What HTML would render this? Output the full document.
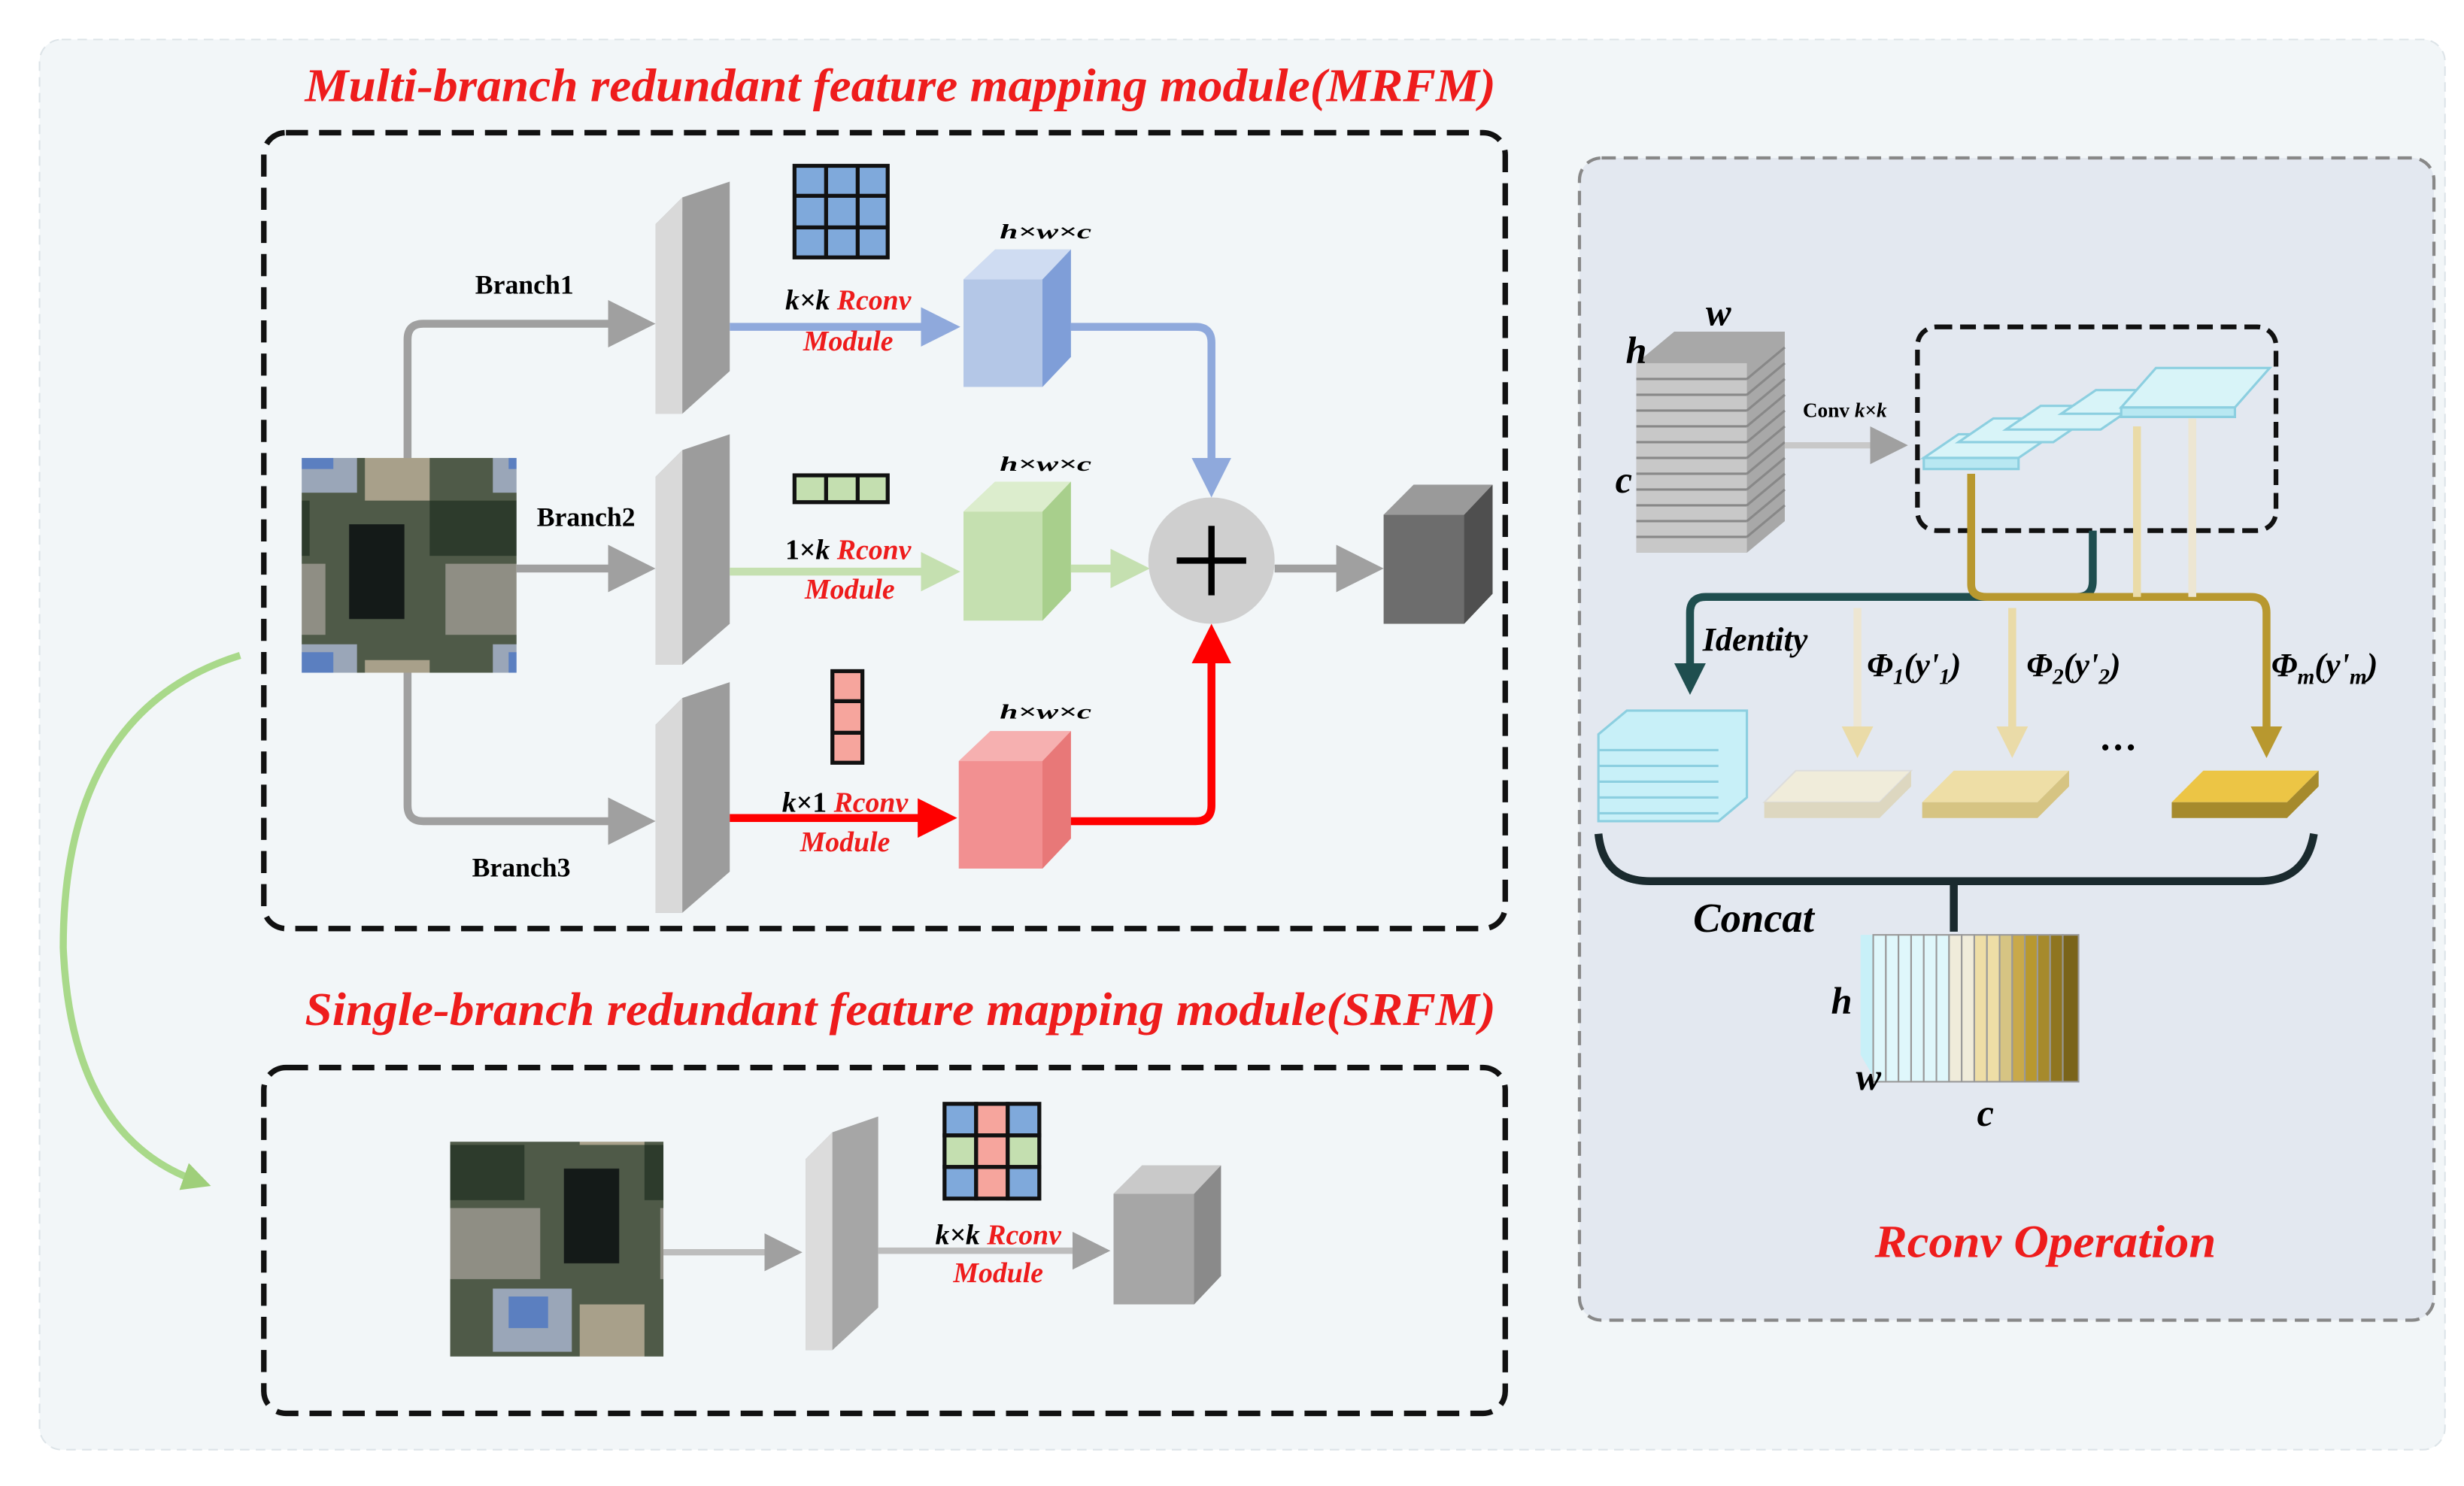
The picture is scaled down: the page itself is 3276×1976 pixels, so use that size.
<!DOCTYPE html>
<html><head><meta charset="utf-8"><style>
html,body{margin:0;padding:0;background:#fff;}
svg{display:block;}
text{font-family:"Liberation Serif",serif;}
</style></head><body>
<svg width="3276" height="1976" viewBox="0 0 1560 941" xmlns="http://www.w3.org/2000/svg">
<defs>
<marker id="ag" markerWidth="6" markerHeight="6" refX="4" refY="3" orient="auto" markerUnits="strokeWidth"><path d="M0,0 L6,3 L0,6 z" fill="#a0a0a0"/></marker>
<marker id="ab" markerWidth="5" markerHeight="5" refX="3" refY="2.5" orient="auto" markerUnits="strokeWidth"><path d="M0,0 L5,2.5 L0,5 z" fill="#8fa9dc"/></marker>
<marker id="agr" markerWidth="5" markerHeight="5" refX="3" refY="2.5" orient="auto" markerUnits="strokeWidth"><path d="M0,0 L5,2.5 L0,5 z" fill="#c5e0b0"/></marker>
<marker id="ar" markerWidth="5" markerHeight="5" refX="3" refY="2.5" orient="auto" markerUnits="strokeWidth"><path d="M0,0 L5,2.5 L0,5 z" fill="#ff0000"/></marker>
<marker id="ad" markerWidth="4" markerHeight="4" refX="2" refY="2" orient="auto" markerUnits="strokeWidth"><path d="M0,0 L4,2 L0,4 z" fill="#1f4e4f"/></marker>
<marker id="ao" markerWidth="4" markerHeight="4" refX="2" refY="2" orient="auto" markerUnits="strokeWidth"><path d="M0,0 L4,2 L0,4 z" fill="#b8982f"/></marker>
<marker id="al" markerWidth="4" markerHeight="4" refX="2" refY="2" orient="auto" markerUnits="strokeWidth"><path d="M0,0 L4,2 L0,4 z" fill="#eadba8"/></marker>
<marker id="agg" markerWidth="4" markerHeight="4" refX="2" refY="2" orient="auto" markerUnits="strokeWidth"><path d="M0,0 L4,2 L0,4 z" fill="#9fcf7a"/></marker>
<pattern id="img" width="136" height="136" patternUnits="userSpaceOnUse">
<rect width="136" height="136" fill="#4f5a48"/>
<rect x="40" y="0" width="50" height="40" fill="#9aa6b8"/>
<rect x="50" y="5" width="25" height="20" fill="#5b7fc0"/>
<rect x="0" y="45" width="60" height="35" fill="#2d3b2c"/>
<rect x="85" y="60" width="35" height="60" fill="#141a18"/>
<rect x="10" y="85" width="60" height="45" fill="#8f8e84"/>
<rect x="95" y="10" width="41" height="35" fill="#a8a08a"/>
</pattern>
</defs>
<rect x="25" y="25" width="1523" height="893" rx="14" fill="#f2f6f8" stroke="#dde4e8" stroke-dasharray="6,4"/>

<text x="193" y="64" textLength="754" lengthAdjust="spacingAndGlyphs" font-size="30" font-weight="bold" font-style="italic" fill="#ee1c1c">Multi-branch redundant feature mapping module(MRFM)</text>
<rect x="167" y="84" width="786" height="504" rx="14" fill="none" stroke="#111" stroke-width="3.5" stroke-dasharray="14,7"/>

<g fill="none" stroke="#a0a0a0" stroke-width="5">
<path d="M258,290 V215 Q258,205 268,205 H405" marker-end="url(#ag)"/>
<path d="M327,360 H405" marker-end="url(#ag)"/>
<path d="M258,426 V510 Q258,520 268,520 H405" marker-end="url(#ag)"/>
</g>
<rect x="191" y="290" width="136" height="136" fill="url(#img)"/>
<text x="332" y="186" text-anchor="middle" font-size="17" font-weight="bold">Branch1</text>
<text x="371" y="333" text-anchor="middle" font-size="17" font-weight="bold">Branch2</text>
<text x="330" y="555" text-anchor="middle" font-size="17" font-weight="bold">Branch3</text>

<g>
<path d="M415,142 L432,125 L462,115 L462,235 L432,262 L415,262 z" fill="#9c9c9c"/><path d="M415,142 L432,125 L432,262 L415,262z" fill="#d9d9d9"/>
<path d="M415,302 L432,285 L462,275 L462,395 L432,421 L415,421 z" fill="#9c9c9c"/><path d="M415,302 L432,285 L432,421 L415,421z" fill="#d9d9d9"/>
<path d="M415,459 L432,442 L462,432 L462,552 L432,578 L415,578 z" fill="#9c9c9c"/><path d="M415,459 L432,442 L432,578 L415,578z" fill="#d9d9d9"/>
</g>
<g stroke="#111" stroke-width="2.5">
<rect x="503" y="105" width="59" height="58" fill="#7fa9db"/>
<path d="M523,105V163M543,105V163M503,124H562M503,144H562"/>
<rect x="503" y="301" width="59" height="17" fill="#c4dfb0"/>
<path d="M523,301V318M543,301V318"/>
<rect x="527" y="425" width="19" height="58" fill="#f6a59d"/>
<path d="M527,444H546M527,464H546"/>
</g>
<path d="M462,207 H598" stroke="#8fa9dc" stroke-width="5" marker-end="url(#ab)"/>
<path d="M462,362 H598" stroke="#c5e0b0" stroke-width="5" marker-end="url(#agr)"/>
<path d="M462,518 H596" stroke="#ff0000" stroke-width="5" marker-end="url(#ar)"/>
<g font-size="18" font-weight="bold" font-style="italic" text-anchor="middle">
<text x="537" y="196"><tspan fill="#000">k×k </tspan><tspan fill="#ee1c1c">Rconv</tspan></text>
<text x="537" y="222" fill="#ee1c1c">Module</text>
<text x="537" y="354"><tspan fill="#000" font-style="normal">1×</tspan><tspan fill="#000">k </tspan><tspan fill="#ee1c1c">Rconv</tspan></text>
<text x="538" y="379" fill="#ee1c1c">Module</text>
<text x="535" y="514"><tspan fill="#000">k</tspan><tspan fill="#000" font-style="normal">×1 </tspan><tspan fill="#ee1c1c">Rconv</tspan></text>
<text x="535" y="539" fill="#ee1c1c">Module</text>
</g>
<g>
<path d="M610,177 L630,158 L678,158 L678,226 L660,245 L610,245z" fill="#b4c7e7"/><path d="M610,177 L630,158 L678,158 L660,177z" fill="#cfdcf2"/><path d="M660,177 L678,158 L678,226 L660,245z" fill="#7f9ed8"/>
<path d="M610,324 L630,305 L678,305 L678,374 L660,393 L610,393z" fill="#c5e0b0"/><path d="M610,324 L630,305 L678,305 L660,324z" fill="#dcedcd"/><path d="M660,324 L678,305 L678,374 L660,393z" fill="#a8cf8c"/>
<path d="M607,482 L627,463 L678,463 L678,531 L660,550 L607,550z" fill="#f29091"/><path d="M607,482 L627,463 L678,463 L660,482z" fill="#f6b0b0"/><path d="M660,482 L678,463 L678,531 L660,550z" fill="#e87878"/>
</g>
<g font-size="13" font-weight="bold" font-style="italic">
<text x="633" y="151" textLength="58" lengthAdjust="spacingAndGlyphs">h×w×c</text><text x="633" y="298" textLength="58" lengthAdjust="spacingAndGlyphs">h×w×c</text><text x="633" y="455" textLength="58" lengthAdjust="spacingAndGlyphs">h×w×c</text>
</g>
<path d="M678,207 H757 Q767,207 767,217 V305" fill="none" stroke="#8fa9dc" stroke-width="5" marker-end="url(#ab)"/>
<path d="M678,360 H718" stroke="#c5e0b0" stroke-width="5" marker-end="url(#agr)"/>
<path d="M678,520 H757 Q767,520 767,510 V405" fill="none" stroke="#ff0000" stroke-width="5" marker-end="url(#ar)"/>
<circle cx="767" cy="355" r="40" fill="#cfcfcf"/>
<path d="M767,333V377M745,355H789" stroke="#000" stroke-width="4"/>
<path d="M807,360 H866" stroke="#a0a0a0" stroke-width="5" marker-end="url(#ag)"/>
<path d="M876,326 L895,307 L945,307 L945,376 L927,395 L876,395z" fill="#6d6d6d"/><path d="M876,326 L895,307 L945,307 L927,326z" fill="#9a9a9a"/><path d="M927,326 L945,307 L945,376 L927,395z" fill="#4f4f4f"/>

<path d="M152,415 Q40,450 40,600 Q45,720 125,748" fill="none" stroke="#a9d98a" stroke-width="4.5" marker-end="url(#agg)"/>

<text x="193" y="649" textLength="754" lengthAdjust="spacingAndGlyphs" font-size="30" font-weight="bold" font-style="italic" fill="#ee1c1c">Single-branch redundant feature mapping module(SRFM)</text>
<rect x="167" y="676" width="786" height="219" rx="14" fill="none" stroke="#111" stroke-width="3.5" stroke-dasharray="14,7"/>
<rect x="285" y="723" width="135" height="136" fill="url(#img)"/>
<path d="M420,793 H500" stroke="#bdbdbd" stroke-width="4" marker-end="url(#ag)"/>
<path d="M510,734 L527,717 L556,707 L556,828 L527,855 L510,855 z" fill="#a6a6a6"/><path d="M510,734 L527,717 L527,855 L510,855z" fill="#dcdcdc"/>
<g stroke="#111" stroke-width="2.5">
<rect x="598" y="699" width="20" height="20" fill="#7fa9db"/><rect x="618" y="699" width="20" height="20" fill="#f6a59d"/><rect x="638" y="699" width="20" height="20" fill="#7fa9db"/>
<rect x="598" y="719" width="20" height="20" fill="#c4dfb0"/><rect x="618" y="719" width="20" height="20" fill="#f6a59d"/><rect x="638" y="719" width="20" height="20" fill="#c4dfb0"/>
<rect x="598" y="739" width="20" height="20" fill="#7fa9db"/><rect x="618" y="739" width="20" height="20" fill="#f6a59d"/><rect x="638" y="739" width="20" height="20" fill="#7fa9db"/>
</g>
<path d="M556,792 H695" stroke="#bdbdbd" stroke-width="4" marker-end="url(#ag)"/>
<g font-size="18" font-weight="bold" font-style="italic" text-anchor="middle">
<text x="632" y="788"><tspan>k×k </tspan><tspan fill="#ee1c1c">Rconv</tspan></text>
<text x="632" y="812" fill="#ee1c1c">Module</text>
</g>
<path d="M705,756 L723,738 L773,738 L773,808 L756,826 L705,826z" fill="#a6a6a6"/><path d="M705,756 L723,738 L773,738 L756,756z" fill="#c9c9c9"/><path d="M756,756 L773,738 L773,808 L756,826z" fill="#8a8a8a"/>

<rect x="1000" y="100" width="541" height="736" rx="14" fill="#e3e8f0" stroke="#888" stroke-width="2" stroke-dasharray="9,5"/>
<g>
<path d="M1036,230 L1060,210 L1130,210 L1130,330 L1106,350 L1036,350z" fill="#a8a8a8"/>
<rect x="1036" y="230" width="70" height="120" fill="#c8c8c8"/>
<g stroke="#888" stroke-width="1.5">
<path d="M1036,240H1106M1036,250H1106M1036,260H1106M1036,270H1106M1036,280H1106M1036,290H1106M1036,300H1106M1036,310H1106M1036,320H1106M1036,330H1106M1036,340H1106"/>
<path d="M1106,240L1130,220M1106,250L1130,230M1106,260L1130,240M1106,270L1130,250M1106,280L1130,260M1106,290L1130,270M1106,300L1130,280M1106,310L1130,290M1106,320L1130,300M1106,330L1130,310M1106,340L1130,320"/>
</g>
</g>
<text x="1036" y="230" text-anchor="middle" font-size="24" font-weight="bold" font-style="italic">h</text>
<text x="1088" y="206" text-anchor="middle" font-size="24" font-weight="bold" font-style="italic">w</text>
<text x="1028" y="312" text-anchor="middle" font-size="24" font-weight="bold" font-style="italic">c</text>
<path d="M1130,282 H1200" stroke="#c8c8c8" stroke-width="4" marker-end="url(#ag)"/>
<text x="1168" y="264" text-anchor="middle" font-size="13" font-weight="bold">Conv <tspan font-style="italic">k</tspan>×<tspan font-style="italic">k</tspan></text>
<rect x="1214" y="207" width="227" height="129" rx="12" fill="none" stroke="#111" stroke-width="3" stroke-dasharray="10,5"/>
<g stroke="#8ccfe0" stroke-width="1.5" fill="#d8f4f8">
<path d="M1218,290 L1240,275 L1300,275 L1278,290z"/><path d="M1218,290 H1278 V297 H1218z" fill="#b8e8f2"/>
<path d="M1240,280 L1262,265 L1322,265 L1300,280z"/>
<path d="M1270,272 L1292,257 L1352,257 L1330,272z"/>
<path d="M1305,262 L1327,247 L1387,247 L1365,262z"/>
<path d="M1343,258 L1365,233 L1437,233 L1415,258z"/><path d="M1343,258 H1415 V264 H1343z" fill="#b8e8f2"/>
</g>
<path d="M1325,336 V368 Q1325,378 1315,378 H1080 Q1070,378 1070,388 V430" fill="none" stroke="#1f4e4f" stroke-width="5" marker-end="url(#ad)"/>
<path d="M1248,300 V370 Q1248,378 1258,378 H1425 Q1435,378 1435,388 V470" fill="none" stroke="#b8982f" stroke-width="5" marker-end="url(#ao)"/>
<path d="M1353,270 V378" stroke="#eadba8" stroke-width="5"/>
<path d="M1388,265 V378" stroke="#ede6d2" stroke-width="5"/>
<path d="M1176,385 V470" stroke="#ede6d2" stroke-width="5" marker-end="url(#al)"/>
<path d="M1274,385 V470" stroke="#eadba8" stroke-width="5" marker-end="url(#al)"/>
<g font-size="21" font-weight="bold" font-style="italic">
<text x="1078" y="412">Identity</text>
<text x="1182" y="428">Φ<tspan font-size="14" dy="5">1</tspan><tspan dy="-5">(y'</tspan><tspan font-size="14" dy="5">1</tspan><tspan dy="-5">)</tspan></text>
<text x="1283" y="428">Φ<tspan font-size="14" dy="5">2</tspan><tspan dy="-5">(y'</tspan><tspan font-size="14" dy="5">2</tspan><tspan dy="-5">)</tspan></text>
<text x="1438" y="428">Φ<tspan font-size="14" dy="5">m</tspan><tspan dy="-5">(y'</tspan><tspan font-size="14" dy="5">m</tspan><tspan dy="-5">)</tspan></text>
</g>
<text x="1341" y="475" text-anchor="middle" font-size="24" font-weight="bold">…</text>
<g stroke="#8ccfe0" stroke-width="1.5">
<path d="M1012,465 L1030,450 L1106,450 L1106,505 L1088,520 L1012,520z" fill="#c8f0f8"/>
<path d="M1012,475H1088M1012,485H1088M1012,495H1088M1012,505H1088M1012,515H1088"/>
</g>
<path d="M1117,508 L1137,488 L1210,488 L1190,508z" fill="#f0ecda" stroke="#ddd" /><path d="M1117,508 H1190 V518 H1117z M1190,508 L1210,488 V498 L1190,518z" fill="#ddd7c0"/>
<path d="M1217,508 L1237,488 L1310,488 L1290,508z" fill="#eedea6"/><path d="M1217,508 H1290 V518 H1217z M1290,508 L1310,488 V498 L1290,518z" fill="#d6c483"/>
<path d="M1375,508 L1395,488 L1468,488 L1448,508z" fill="#ecc545"/><path d="M1375,508 H1448 V518 H1375z M1448,508 L1468,488 V498 L1448,518z" fill="#a68a2c"/>
<path d="M1012,528 Q1015,558 1045,558 H1430 Q1460,558 1465,528" fill="none" stroke="#1a2a2e" stroke-width="5"/>
<path d="M1237,558 V590" stroke="#1a2a2e" stroke-width="5"/>
<text x="1072" y="590" font-size="26" font-weight="bold" font-style="italic">Concat</text>
<g>
<path d="M1178,592 L1188,592 L1188,685 L1178,668z" fill="#c8f0f8"/>
<g stroke="#999" stroke-width="1">
<rect x="1186" y="592" width="8" height="93" fill="#dff7fb"/><rect x="1194" y="592" width="8" height="93" fill="#dff7fb"/><rect x="1202" y="592" width="8" height="93" fill="#dff7fb"/><rect x="1210" y="592" width="8" height="93" fill="#dff7fb"/><rect x="1218" y="592" width="8" height="93" fill="#dff7fb"/><rect x="1226" y="592" width="8" height="93" fill="#dff7fb"/><rect x="1234" y="592" width="8" height="93" fill="#f0ecda"/><rect x="1242" y="592" width="8" height="93" fill="#f0ecda"/><rect x="1250" y="592" width="8" height="93" fill="#eedea6"/><rect x="1258" y="592" width="8" height="93" fill="#eedea6"/><rect x="1266" y="592" width="8" height="93" fill="#d6c483"/><rect x="1274" y="592" width="8" height="93" fill="#c9a94a"/><rect x="1282" y="592" width="8" height="93" fill="#b8982f"/><rect x="1290" y="592" width="8" height="93" fill="#a68a2c"/><rect x="1298" y="592" width="8" height="93" fill="#8f7520"/><rect x="1306" y="592" width="10" height="93" fill="#7a641a"/>
</g>
</g>
<text x="1166" y="642" text-anchor="middle" font-size="24" font-weight="bold" font-style="italic">h</text>
<text x="1183" y="690" text-anchor="middle" font-size="24" font-weight="bold" font-style="italic">w</text>
<text x="1257" y="713" text-anchor="middle" font-size="24" font-weight="bold" font-style="italic">c</text>
<text x="1187" y="796" textLength="216" lengthAdjust="spacingAndGlyphs" font-size="29" font-weight="bold" font-style="italic" fill="#ee1c1c">Rconv Operation</text>
</svg>
</body></html>
